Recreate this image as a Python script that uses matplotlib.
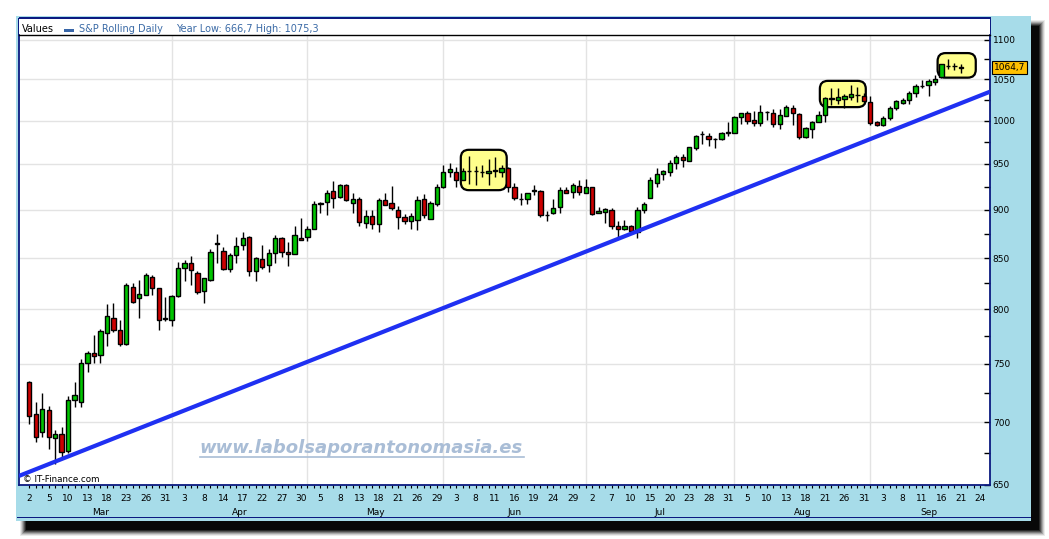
import numpy as np
import pandas as pd
import matplotlib
matplotlib.use("Agg")
import matplotlib.pyplot as plt
from matplotlib.patches import Rectangle, FancyBboxPatch
from matplotlib.transforms import IdentityTransform, blended_transform_factory
from matplotlib.ticker import FixedLocator, FixedFormatter, NullFormatter

# ---------------- data ----------------
dates = pd.bdate_range("2009-03-02", "2009-09-24")
dates = dates[dates != pd.Timestamp("2009-04-10")]

opens = [734, 707, 692, 710, 687, 690, 677, 719, 717, 751,
         760, 758, 778, 792, 781, 768, 821, 811, 814, 831,
         820, 791, 790, 813, 840, 845, 835, 818, 828, 864,
         857, 839, 853, 863, 871, 837, 849, 843, 855, 870,
         856, 854, 870, 871, 880, 906, 908, 920, 914, 927,
         907, 911, 886, 893, 885, 910, 907, 900, 892, 888,
         889, 911, 890, 906, 924, 941, 941, 932, 942, 942,
         941, 940, 942, 941, 946, 924, 911, 911, 920, 920,
         894, 897, 903, 921, 919, 926, 918, 924, 896, 898,
         900, 883, 880, 883, 877, 900, 913, 929, 939, 941,
         951, 958, 953, 968, 984, 982, 978, 978, 985, 985,
         1004, 1009, 1001, 997, 1010, 1009, 996, 1005, 1015, 1008,
         981, 990, 998, 1006, 1026, 1025, 1026, 1028, 1031, 1030,
         1022, 998, 995, 1003, 1015, 1021, 1024, 1033, 1042, 1043,
         1047, 1053, 1067, 1067, 1065]
highs = [735, 717, 725, 714, 694, 696, 722, 734, 754, 762,
         776, 782, 805, 806, 790, 825, 825, 828, 835, 833,
         820, 812, 814, 846, 848, 852, 837, 830, 859, 875,
         861, 855, 871, 877, 872, 851, 863, 859, 873, 871,
         866, 883, 891, 883, 909, 908, 921, 931, 928, 928,
         918, 914, 900, 900, 913, 918, 926, 904, 895, 896,
         915, 917, 909, 928, 949, 951, 947, 945, 959, 948,
         949, 956, 958, 949, 947, 929, 918, 918, 927, 921,
         899, 911, 924, 924, 929, 932, 933, 925, 903, 902,
         902, 888, 889, 884, 903, 908, 936, 945, 943, 954,
         960, 961, 969, 983, 988, 985, 980, 986, 998, 1005,
         1009, 1011, 1011, 1018, 1011, 1014, 1014, 1018, 1018, 1009,
         992, 1000, 1011, 1028, 1039, 1039, 1032, 1043, 1041, 1033,
         1029, 1000, 1005, 1017, 1025, 1027, 1035, 1044, 1049, 1050,
         1055, 1069, 1075.3, 1071, 1069]
lows = [699, 684, 688, 678, 666.7, 672, 675, 713, 713, 743,
        751, 751, 766, 779, 766, 767, 806, 792, 814, 814,
        781, 789, 784, 812, 827, 823, 815, 806, 827, 845,
        838, 836, 845, 858, 832, 827, 839, 836, 845, 851,
        842, 854, 868, 867, 880, 897, 894, 902, 913, 909,
        897, 883, 881, 880, 877, 905, 900, 880, 885, 880,
        879, 891, 890, 904, 923, 936, 925, 932, 928, 927,
        936, 927, 936, 936, 919, 910, 905, 906, 916, 892,
        888, 895, 896, 918, 913, 916, 918, 894, 896, 886,
        880, 871, 879, 876, 870, 897, 913, 925, 932, 937,
        944, 947, 953, 966, 973, 970, 968, 977, 982, 985,
        996, 996, 993, 994, 1001, 992, 990, 1005, 995, 978,
        979, 979, 998, 998, 1018, 1020, 1015, 1025, 1022, 1022,
        995, 993, 993, 1001, 1013, 1020, 1020, 1028, 1039, 1030,
        1043, 1051, 1063, 1062, 1058]
closes = [705, 688, 711, 688, 690, 676, 719, 723, 751, 760,
          757, 780, 794, 781, 768, 823, 807, 815, 833, 820,
          790, 792, 813, 840, 845, 838, 817, 830, 856, 865,
          839, 853, 862, 870, 837, 850, 841, 855, 870, 856,
          854, 873, 868, 880, 906, 907, 918, 913, 927, 910,
          911, 887, 893, 885, 910, 905, 902, 892, 888, 893,
          910, 894, 907, 924, 941, 944, 932, 942, 942, 942,
          941, 942, 943, 945, 925, 912, 911, 918, 921, 894,
          894, 902, 921, 918, 927, 919, 924, 895, 899, 901,
          883, 880, 883, 878, 900, 906, 932, 939, 942, 951,
          958, 954, 969, 982, 984, 978, 978, 985, 986, 1004,
          1009, 1000, 997, 1010, 1010, 996, 1007, 1016, 1009, 981,
          991, 998, 1007, 1027, 1027, 1028, 1029, 1032, 1031, 1023,
          997, 995, 1003, 1015, 1023, 1025, 1033, 1042, 1042, 1048,
          1050, 1069, 1067, 1066, 1064.7]

last_price_label = "1064,7"
series_name = "S&P Rolling Daily"
year_text = "Year Low: 666,7 High: 1075,3"
month_names = ["Mar", "Apr", "May", "Jun", "Jul", "Aug", "Sep"]
y_major = [650, 700, 750, 800, 850, 900, 950, 1000, 1050, 1100]
y_minor = [675, 725, 775, 825, 875, 925, 975, 1025, 1075]
y_grid = [700, 750, 800, 850, 900, 950, 1000, 1050, 1100]
# trend line (index, value) end points
trend_x = [-1.6, 148.5]
trend_y = [657.0, 1034.7]
# highlight boxes: (index start, index end, value low, value high)
boxes = [(66.7, 73.8, 921, 966), (122.2, 129.3, 1016, 1048), (140.4, 146.3, 1052, 1083)]

# ---------------- figure ----------------
W, H = 1049, 539
fig = plt.figure(figsize=(W / 100, H / 100), dpi=100)
fig.patch.set_facecolor("white")

PANEL = "#A7DCE9"
NAVY = "#0B1A80"


def frect(x0, y0, x1, y1, **kw):
    r = Rectangle((x0 / W, 1 - y1 / H), (x1 - x0) / W, (y1 - y0) / H,
                  transform=fig.transFigure, **kw)
    fig.patches.append(r)
    return r


# shadow (soft)
for i, a in enumerate([0.08, 0.12, 0.18, 0.25, 0.35, 0.5, 0.8]):
    g = 6 - i
    frect(26 - g, 26 - g, 1039 + g, 530 + g, facecolor="black",
          edgecolor="none", alpha=a, zorder=0)
# panel
frect(16, 16, 1031, 521, facecolor=PANEL, edgecolor="none", zorder=1)
frect(17, 517, 1031, 518.2, facecolor=NAVY, edgecolor="none", zorder=2)
# header area
frect(19, 18, 990, 35, facecolor="white", edgecolor="none", zorder=2)
frect(19, 17.5, 991, 18.7, facecolor=NAVY, edgecolor="none", zorder=3)
frect(18, 17.5, 19.3, 35, facecolor=NAVY, edgecolor="none", zorder=3)
frect(989.7, 17.5, 991, 35, facecolor=NAVY, edgecolor="none", zorder=3)

fig.text(22 / W, 1 - 29.5 / H, "Values", fontsize=7, color="black",
         va="center", ha="left", zorder=4)
frect(64, 28.5, 74, 31.5, facecolor="#3866A8", edgecolor="none", zorder=4)
fig.text(79 / W, 1 - 29.5 / H, series_name, fontsize=7, color="#3A6AA6",
         va="center", ha="left", zorder=4)
fig.text(176 / W, 1 - 29.5 / H, year_text, fontsize=7, color="#3A6AA6",
         va="center", ha="left", zorder=4)

# ---------------- axes ----------------
ax = fig.add_axes([19 / W, 1 - 485 / H, (990 - 19) / W, (485 - 35) / H], zorder=5)
ax.set_facecolor("white")
ax.set_yscale("log")
ax.set_xlim(-1.59, 148.5)
ax.set_ylim(650, 1106.4)

for side in ["left", "right", "bottom"]:
    ax.spines[side].set_color(NAVY)
    ax.spines[side].set_linewidth(1.3)
ax.spines["top"].set_color("black")
ax.spines["top"].set_linewidth(1.0)

# grid
for v in y_grid:
    ax.axhline(v, color="#E3E3E3", lw=1.0, zorder=1)
month_idx = [dates.month == m for m in range(3, 10)]
month_first = [int(np.argmax(mask)) for mask in month_idx]
for mi in month_first[1:]:
    ax.axvline(mi, color="#E3E3E3", lw=1.0, zorder=1)

# y axis on right
ax.yaxis.tick_right()
ax.yaxis.set_major_locator(FixedLocator(y_major))
ax.yaxis.set_major_formatter(FixedFormatter([str(v) for v in y_major]))
ax.yaxis.set_minor_locator(FixedLocator(y_minor))
ax.yaxis.set_minor_formatter(NullFormatter())
ax.tick_params(axis="y", which="both", direction="in", length=4, width=1,
               color="black", labelsize=6.5, pad=2, right=True, left=False)

# x axis
n_all = len(dates)
ax.xaxis.set_minor_locator(FixedLocator(np.arange(n_all)))
ax.xaxis.set_major_locator(FixedLocator(np.arange(0, n_all, 3)))
ax.xaxis.set_major_formatter(FixedFormatter([str(d.day) for d in dates[::3]]))
ax.xaxis.set_minor_formatter(NullFormatter())
ax.tick_params(axis="x", which="both", direction="out", length=2.5, width=0.8,
               color="black", labelsize=6.5, pad=4)

trans_x = blended_transform_factory(ax.transData, ax.transAxes)
for m, name in zip(range(3, 10), month_names):
    idxs = np.where(dates.month == m)[0]
    ax.text(idxs.mean() + 0.5, -0.062, name, transform=trans_x, fontsize=6.5,
            ha="center", va="center", clip_on=False)

# ---------------- candles ----------------
o = np.array(opens, float)
h = np.array(highs, float)
l = np.array(lows, float)
c = np.array(closes, float)
xi = np.arange(len(o))
ax.vlines(xi, l, h, color="black", lw=1.0, zorder=6)
cols = np.where(c > o, "#00C400", "#CC0000")
bottoms = np.minimum(o, c)
heights = np.maximum(np.abs(c - o), 0.01)
ax.bar(xi, heights, bottom=bottoms, width=0.66, color=cols, edgecolor="black",
       linewidth=1.0, zorder=7)

# trend line
ax.plot(trend_x, trend_y, color="#1F30F2", lw=3.0, zorder=8, solid_capstyle="butt")

# highlight boxes (drawn in display space, from data coords)
fig.canvas.draw()
for (x0, x1, v0, v1) in boxes:
    p0 = ax.transData.transform((x0, v0))
    p1 = ax.transData.transform((x1, v1))
    bx = FancyBboxPatch((p0[0], p0[1]), p1[0] - p0[0], p1[1] - p0[1],
                        boxstyle="round,pad=0,rounding_size=8",
                        transform=IdentityTransform(), facecolor="#FFFF8C",
                        edgecolor="black", lw=1.6, zorder=5)
    ax.add_artist(bx)

# last price tag
trans_y = blended_transform_factory(ax.transAxes, ax.transData)
ax.text(1.004, closes[-1], last_price_label, transform=trans_y, fontsize=6.5,
        ha="left", va="center", zorder=10, clip_on=False,
        bbox=dict(boxstyle="square,pad=0.2", facecolor="#FFC000",
                  edgecolor="black", lw=0.8))

# texts
ax.text(0.004, 0.013, "\u00a9 IT-Finance.com", transform=ax.transAxes,
        fontsize=6.3, ha="left", va="center", zorder=9)
ax.text(0.186, 0.083, "www.labolsaporantonomasia.es", transform=ax.transAxes,
        fontsize=13, fontweight="bold", fontstyle="italic",
        color="#A9BDD6", ha="left", va="center", zorder=3)
ax.plot([0.186, 0.52], [0.062, 0.062], transform=ax.transAxes,
        color="#A9BDD6", lw=1.2, zorder=3)

fig.savefig("out.png", dpi=100, facecolor="white")
